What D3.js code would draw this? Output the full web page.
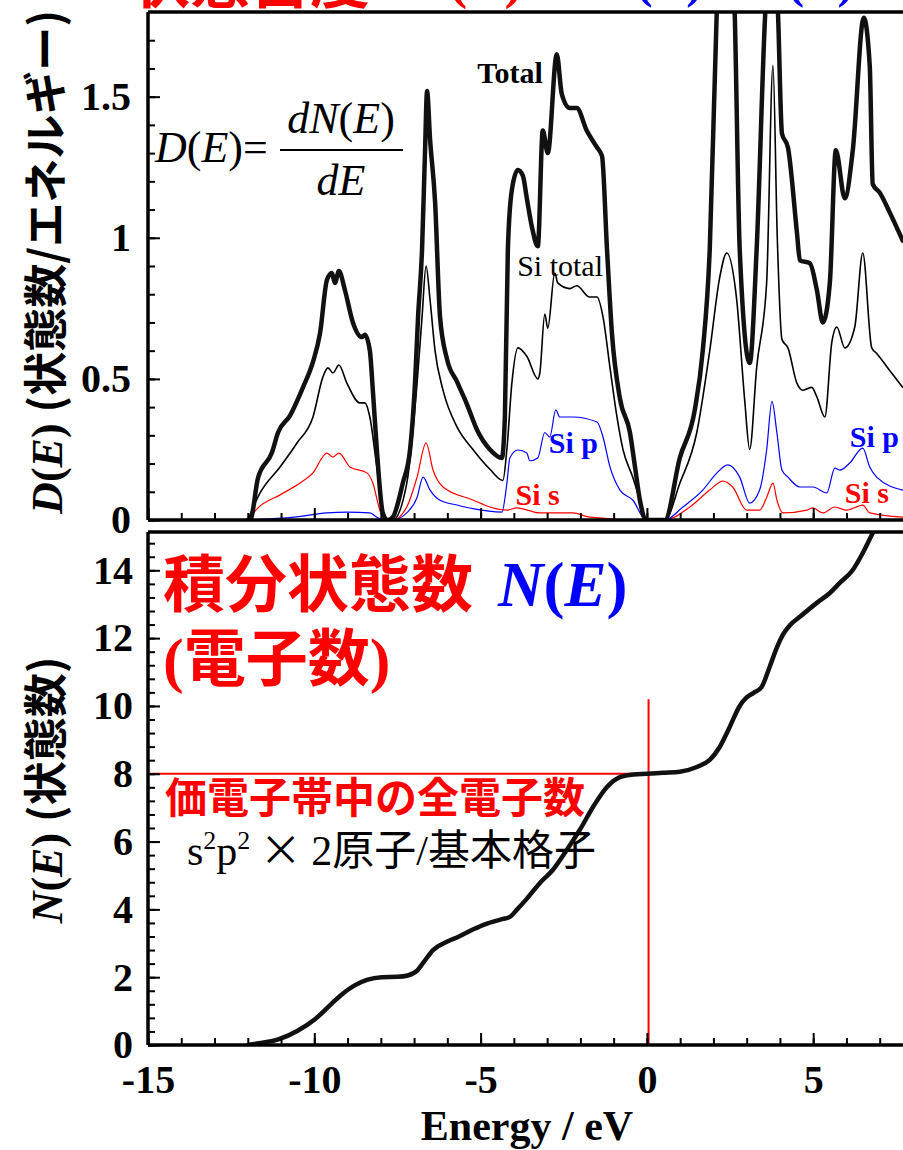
<!DOCTYPE html>
<html>
<head>
<meta charset="utf-8">
<script src="https://cdn.jsdelivr.net/npm/d3@7"></script>
<style>
body { margin: 0; background: #fff; }
svg { display: block; font-family: "Liberation Serif", "Times New Roman", "Noto Sans CJK JP", serif; }
.frame { stroke: #000; stroke-width: 3.5; }
.tick line { stroke: #000; stroke-width: 2; }
.tick text { font-size: 40px; font-weight: bold; fill: #000; font-family: "Liberation Serif", serif; }
.line { fill: none; stroke-linejoin: round; stroke-linecap: round; }
.total { stroke: #111; stroke-width: 4.5; }
.sitotal { stroke: #000; stroke-width: 1.6; }
.sip { stroke: #0000ff; stroke-width: 1.2; }
.sis { stroke: #ff0000; stroke-width: 1.2; }
.ne { stroke: #111; stroke-width: 4.5; }
.cjk { font-family: "Noto Sans CJK JP", sans-serif; }
</style>
</head>
<body>
<svg width="903" height="1150"></svg>
<script>
// energy (eV) vs density of states
const totalDOS = [
    [-12.0, 0], [-11.93, 0], [-11.69, 0.15], [-11.27, 0.24], [-11.09, 0.31], [-10.73, 0.37],
    [-10.34, 0.47], [-10.04, 0.56], [-9.83, 0.66], [-9.62, 0.85], [-9.47, 0.875], [-9.38, 0.84],
    [-9.26, 0.882], [-9.08, 0.815], [-8.84, 0.70], [-8.57, 0.648], [-8.48, 0.656], [-8.33, 0.60],
    [-8.24, 0.46], [-8.12, 0.25], [-7.94, 0.025], [-7.79, 0],
    [-7.64, 0.01], [-7.34, 0.13], [-7.12, 0.25], [-6.97, 0.49], [-6.88, 0.72], [-6.76, 0.96],
    [-6.67, 1.31], [-6.61, 1.52], [-6.52, 1.35], [-6.37, 1.13], [-6.22, 0.72], [-6.01, 0.57],
    [-5.71, 0.49], [-5.41, 0.41], [-5.11, 0.32], [-4.72, 0.25], [-4.36, 0.22], [-4.27, 0.365],
    [-4.18, 0.96], [-4.06, 1.17], [-3.88, 1.24], [-3.73, 1.22], [-3.61, 1.14], [-3.46, 1.04],
    [-3.28, 0.97], [-3.13, 1.38], [-2.98, 1.30], [-2.71, 1.65], [-2.56, 1.51], [-2.32, 1.46],
    [-2.11, 1.46], [-1.81, 1.38], [-1.50, 1.32], [-1.35, 1.29], [-1.20, 0.96], [-1.05, 0.66],
    [-0.81, 0.43], [-0.51, 0.31], [-0.36, 0.19], [-0.21, 0.07], [-0.03, 0],
    [0.54, 0], [0.99, 0.22], [1.44, 0.39], [1.68, 0.60], [1.89, 0.96], [2.10, 1.80], [2.25, 2.2],
    [2.37, 2.3], [2.49, 2.2], [2.64, 1.8], [2.79, 0.96], [3.09, 0.556], [3.30, 0.96], [3.56, 1.80],
    [3.67, 2.0], [3.76, 2.1], [3.85, 2.0], [3.94, 1.80], [4.06, 1.37], [4.24, 1.32], [4.51, 1.02],
    [4.60, 0.92], [4.90, 0.91], [5.11, 0.815], [5.29, 0.70], [5.50, 0.84], [5.68, 1.31],
    [5.95, 1.14], [6.19, 1.31], [6.52, 1.78], [6.70, 1.61], [6.79, 1.19], [7.00, 1.16],
    [7.30, 1.09], [7.69, 0.99]
];

const siTotalDOS = [
    [-12.0, 0], [-11.63, 0.096], [-11.03, 0.188], [-10.52, 0.273], [-10.04, 0.365], [-9.74, 0.507],
    [-9.59, 0.539], [-9.44, 0.521], [-9.26, 0.549], [-9.02, 0.485], [-8.63, 0.415], [-8.48, 0.415],
    [-8.33, 0.365], [-8.12, 0.188], [-7.88, 0],
    [-7.64, 0], [-7.22, 0.13], [-6.91, 0.485], [-6.76, 0.72], [-6.64, 0.90], [-6.52, 0.78],
    [-6.37, 0.60], [-6.13, 0.46], [-5.71, 0.33], [-5.23, 0.25], [-4.72, 0.18], [-4.33, 0.14],
    [-4.21, 0.25], [-4.06, 0.485], [-3.88, 0.61], [-3.61, 0.58], [-3.28, 0.50], [-3.22, 0.52],
    [-3.07, 0.73], [-2.98, 0.68], [-2.77, 0.875], [-2.68, 0.84], [-2.32, 0.82], [-2.11, 0.83],
    [-1.72, 0.79], [-1.50, 0.79], [-1.32, 0.72], [-1.11, 0.54], [-0.90, 0.365], [-0.72, 0.25],
    [-0.42, 0.15], [-0.21, 0.07], [-0.03, 0],
    [0.54, 0], [0.99, 0.13], [1.50, 0.31], [1.89, 0.60], [2.19, 0.86], [2.40, 0.946], [2.70, 0.78],
    [2.94, 0.425], [3.09, 0.25], [3.30, 0.54], [3.60, 0.84], [3.79, 1.61], [3.92, 1.0], [4.06, 0.64],
    [4.24, 0.61], [4.51, 0.485], [4.69, 0.46], [4.96, 0.47], [5.11, 0.436], [5.35, 0.365],
    [5.56, 0.63], [5.71, 0.684], [5.95, 0.61], [6.25, 0.684], [6.49, 0.946], [6.76, 0.61],
    [6.91, 0.59], [7.30, 0.53], [7.69, 0.47]
];

const siPDOS = [
    [-12.0, 0], [-10.6, 0.01], [-9.62, 0.025], [-9.02, 0.028], [-8.33, 0.025], [-8.12, 0.01], [-7.88, 0],
    [-7.64, 0], [-7.22, 0.025], [-6.91, 0.08], [-6.73, 0.152], [-6.52, 0.106], [-6.22, 0.07],
    [-5.71, 0.053], [-5.23, 0.04], [-4.36, 0.028], [-4.21, 0.13], [-4.12, 0.22], [-3.88, 0.248],
    [-3.61, 0.237], [-3.52, 0.21], [-3.28, 0.22], [-3.07, 0.31], [-2.92, 0.294], [-2.74, 0.39],
    [-2.62, 0.365], [-2.23, 0.365], [-1.50, 0.347], [-1.32, 0.294], [-1.11, 0.188], [-0.81, 0.106],
    [-0.42, 0.07], [-0.03, 0],
    [0.54, 0], [1.08, 0.046], [1.68, 0.106], [2.10, 0.166], [2.43, 0.195], [2.79, 0.152],
    [3.09, 0.06], [3.39, 0.106], [3.60, 0.248], [3.76, 0.42], [3.91, 0.308], [4.06, 0.177],
    [4.24, 0.152], [4.60, 0.117], [4.99, 0.117], [5.41, 0.096], [5.65, 0.184], [5.80, 0.177],
    [6.10, 0.202], [6.49, 0.255], [6.70, 0.188], [6.91, 0.152], [7.69, 0.106]
];

const siSDOS = [
    [-12.0, 0], [-11.69, 0.043], [-11.03, 0.089], [-10.43, 0.131], [-10.04, 0.167], [-9.62, 0.237],
    [-9.44, 0.223], [-9.26, 0.237], [-8.93, 0.188], [-8.42, 0.167], [-8.24, 0.131], [-8.03, 0.035],
    [-7.88, 0],
    [-7.64, 0], [-7.22, 0.046], [-6.91, 0.152], [-6.64, 0.273], [-6.43, 0.177], [-6.13, 0.117],
    [-5.23, 0.071], [-4.72, 0.046], [-4.21, 0.035], [-3.91, 0.043], [-3.22, 0.025], [-2.23, 0.025],
    [-1.71, 0.01], [-0.21, 0],
    [0.54, 0], [1.29, 0.046], [1.89, 0.106], [2.28, 0.138], [2.58, 0.117], [3.00, 0.035],
    [3.39, 0.035], [3.60, 0.08], [3.79, 0.131], [3.91, 0.07], [4.09, 0.025], [4.81, 0.035],
    [4.99, 0.043], [5.29, 0.025], [5.65, 0.046], [6.01, 0.035], [6.49, 0.053], [6.70, 0.025],
    [7.69, 0.01]
];

// integrated density of states N(E)
const intDOS = [
    [-12.0, 0], [-11.81, 0.03], [-11.06, 0.17], [-10.5, 0.42], [-9.98, 0.76], [-9.5, 1.2],
    [-9.20, 1.47], [-8.8, 1.75], [-8.42, 1.92], [-7.97, 2.0], [-7.5, 2.01], [-7.19, 2.05],
    [-6.9, 2.2], [-6.73, 2.42], [-6.43, 2.80], [-6.0, 3.05], [-5.65, 3.2], [-5.2, 3.42],
    [-4.87, 3.56], [-4.4, 3.7], [-4.12, 3.78], [-3.9, 4.0], [-3.64, 4.28], [-3.19, 4.81],
    [-2.83, 5.16], [-2.41, 5.75], [-2.02, 6.34], [-1.62, 7.02], [-1.20, 7.61], [-0.81, 7.9],
    [-0.4, 7.98], [0, 8.0], [0.48, 8.03], [0.99, 8.06], [1.50, 8.2], [1.89, 8.41], [2.19, 8.79],
    [2.49, 9.38], [2.79, 10.0], [3.0, 10.25], [3.2, 10.38], [3.45, 10.56], [3.69, 11.15],
    [3.91, 11.73], [4.09, 12.1], [4.3, 12.38], [4.60, 12.63], [5.11, 13.04], [5.50, 13.33],
    [5.80, 13.63], [6.19, 14.01], [6.49, 14.51], [6.76, 15.04], [7.0, 15.5]
];

const xTicks = [-15, -10, -5, 0, 5];
const xLabels = ["-15", "-10", "-5", "0", "5"];
const dTicks = [0, 0.5, 1, 1.5];
const dLabels = ["0", "0.5", "1", "1.5"];
const nTicks = [0, 2, 4, 6, 8, 10, 12, 14];
const nLabels = ["0", "2", "4", "6", "8", "10", "12", "14"];
const valenceElectrons = 8;
const fermiEnergy = 0.05;

const svg = d3.select("svg");

const x = d3.scaleLinear().domain([-15, 7.7]).range([148, 903]);
const yD = d3.scaleLinear().domain([0, 1.8]).range([520, 12]);
const yN = d3.scaleLinear().domain([0, 15.13]).range([1045, 532]);

const defs = svg.append("defs");
defs.append("clipPath").attr("id", "clipTop")
    .append("rect").attr("x", 148).attr("y", 12).attr("width", 755).attr("height", 508);
defs.append("clipPath").attr("id", "clipBot")
    .append("rect").attr("x", 148).attr("y", 532).attr("width", 755).attr("height", 513);

// title cut off at the top edge
svg.append("text").attr("class", "cjk").attr("x", 130).attr("y", 3)
    .attr("font-size", 60).attr("font-weight", "bold").attr("fill", "red").text("状態密度");
const tt = svg.append("text").attr("x", 408).attr("y", -3)
    .attr("font-size", 56).attr("font-weight", "bold").attr("fill", "red");
tt.append("tspan").attr("font-style", "italic").text("D");
tt.append("tspan").text("(");
tt.append("tspan").attr("font-style", "italic").text("E");
tt.append("tspan").text(")");
const tb = svg.append("text").attr("x", 575).attr("y", -3)
    .attr("font-size", 50).attr("font-weight", "bold").attr("fill", "blue");
tb.append("tspan").attr("font-style", "italic").text("dN");
tb.append("tspan").text("(");
tb.append("tspan").attr("font-style", "italic").text("E");
tb.append("tspan").text(")/");
tb.append("tspan").attr("font-style", "italic").text("dE ");
tb.append("tspan").text("(");
tb.append("tspan").attr("font-style", "italic").text("E");
tb.append("tspan").text(")");

// ---- top panel: D(E)
const lineD = d3.line().x(d => x(d[0])).y(d => yD(d[1])).curve(d3.curveMonotoneX);
const gTop = svg.append("g").attr("clip-path", "url(#clipTop)");
gTop.append("path").datum(siSDOS).attr("class", "line sis").attr("d", lineD);
gTop.append("path").datum(siPDOS).attr("class", "line sip").attr("d", lineD);
gTop.append("path").datum(siTotalDOS).attr("class", "line sitotal").attr("d", lineD);
gTop.append("path").datum(totalDOS).attr("class", "line total").attr("d", lineD);

svg.append("g").attr("transform", "translate(148,0)")
    .call(d3.axisLeft(yD).tickValues(d3.range(0, 1.75, 0.1)).tickSize(-7).tickFormat(""))
    .call(g => g.select(".domain").remove());
svg.append("g").attr("transform", "translate(148,0)")
    .call(d3.axisLeft(yD).tickValues(dTicks).tickSize(-12).tickPadding(17).tickFormat((d, i) => dLabels[i]))
    .call(g => g.select(".domain").remove());
svg.append("g").attr("transform", "translate(0,520)")
    .call(d3.axisBottom(x).tickValues(d3.range(-15, 8, 1)).tickSize(-7).tickFormat(""))
    .call(g => g.select(".domain").remove());
svg.append("g").attr("transform", "translate(0,520)")
    .call(d3.axisBottom(x).tickValues(xTicks).tickSize(-12).tickFormat(""))
    .call(g => g.select(".domain").remove());

// ---- bottom panel: N(E)
const lineN = d3.line().x(d => x(d[0])).y(d => yN(d[1])).curve(d3.curveMonotoneX);
const gBot = svg.append("g").attr("clip-path", "url(#clipBot)");

gBot.append("line")
    .attr("x1", x(-15)).attr("x2", x(0.5))
    .attr("y1", yN(valenceElectrons)).attr("y2", yN(valenceElectrons))
    .attr("stroke", "red").attr("stroke-width", 2);
gBot.append("line")
    .attr("x1", x(fermiEnergy)).attr("x2", x(fermiEnergy))
    .attr("y1", yN(10.2)).attr("y2", yN(0))
    .attr("stroke", "red").attr("stroke-width", 2);
gBot.append("path").datum(intDOS).attr("class", "line ne").attr("d", lineN);

svg.append("g").attr("transform", "translate(148,0)")
    .call(d3.axisLeft(yN).tickValues(d3.range(0, 15.1, 0.4)).tickSize(-7).tickFormat(""))
    .call(g => g.select(".domain").remove());
svg.append("g").attr("transform", "translate(148,0)")
    .call(d3.axisLeft(yN).tickValues(nTicks).tickSize(-12).tickPadding(15).tickFormat((d, i) => nLabels[i]))
    .call(g => g.select(".domain").remove());
svg.append("g").attr("transform", "translate(0,1045)")
    .call(d3.axisBottom(x).tickValues(d3.range(-15, 8, 1)).tickSize(-7).tickFormat(""))
    .call(g => g.select(".domain").remove());
svg.append("g").attr("transform", "translate(0,1045)")
    .call(d3.axisBottom(x).tickValues(xTicks).tickSize(-12).tickPadding(20).tickFormat((d, i) => xLabels[i]))
    .call(g => g.select(".domain").remove());

// frames
const frames = [
    [148, 12, 148, 520], [148, 12, 903, 12], [148, 520, 903, 520],
    [148, 532, 148, 1045], [148, 532, 903, 532], [148, 1045, 903, 1045]
];
svg.selectAll(".frame").data(frames).enter().append("line")
    .attr("class", "frame")
    .attr("x1", d => d[0]).attr("y1", d => d[1]).attr("x2", d => d[2]).attr("y2", d => d[3]);

// annotations, top
svg.append("text").attr("x", x(-5.1)).attr("y", yD(1.55))
    .attr("font-size", 30).attr("font-weight", "bold").text("Total");
svg.append("text").attr("x", x(-3.9)).attr("y", yD(0.865))
    .attr("font-size", 30).text("Si total");
svg.append("text").attr("x", x(-2.95)).attr("y", yD(0.237))
    .attr("font-size", 30).attr("font-weight", "bold").attr("fill", "blue").text("Si p");
svg.append("text").attr("x", x(6.1)).attr("y", yD(0.258))
    .attr("font-size", 30).attr("font-weight", "bold").attr("fill", "blue").text("Si p");
svg.append("text").attr("x", x(-3.95)).attr("y", yD(0.053))
    .attr("font-size", 30).attr("font-weight", "bold").attr("fill", "red").text("Si s");
svg.append("text").attr("x", x(5.95)).attr("y", yD(0.06))
    .attr("font-size", 30).attr("font-weight", "bold").attr("fill", "red").text("Si s");

// D(E) = dN(E)/dE
const f1 = svg.append("text").attr("x", 155).attr("y", 162).attr("font-size", 44);
f1.append("tspan").attr("font-style", "italic").text("D");
f1.append("tspan").text("(");
f1.append("tspan").attr("font-style", "italic").text("E");
f1.append("tspan").text(")=");
const f2 = svg.append("text").attr("x", 341).attr("y", 133).attr("font-size", 44).attr("text-anchor", "middle");
f2.append("tspan").attr("font-style", "italic").text("dN");
f2.append("tspan").text("(");
f2.append("tspan").attr("font-style", "italic").text("E");
f2.append("tspan").text(")");
svg.append("line").attr("x1", 280).attr("x2", 403).attr("y1", 150).attr("y2", 150)
    .attr("stroke", "#000").attr("stroke-width", 2);
svg.append("text").attr("x", 341).attr("y", 195).attr("font-size", 44).attr("text-anchor", "middle")
    .attr("font-style", "italic").text("dE");

// annotations, bottom
svg.append("text").attr("class", "cjk").attr("x", 163).attr("y", 607)
    .attr("font-size", 62).attr("font-weight", "bold").attr("fill", "red").text("積分状態数");
const nt = svg.append("text").attr("x", 498).attr("y", 606)
    .attr("font-size", 63).attr("font-weight", "bold").attr("fill", "blue");
nt.append("tspan").attr("font-style", "italic").text("N");
nt.append("tspan").text("(");
nt.append("tspan").attr("font-style", "italic").text("E");
nt.append("tspan").text(")");
const et = svg.append("text").attr("x", 163).attr("y", 681)
    .attr("font-size", 62).attr("font-weight", "bold").attr("fill", "red");
et.append("tspan").text("(");
et.append("tspan").attr("class", "cjk").text("電子数");
et.append("tspan").text(")");
svg.append("text").attr("class", "cjk").attr("x", 165).attr("y", 813)
    .attr("font-size", 42).attr("font-weight", "bold").attr("fill", "red").text("価電子帯中の全電子数");
const sp = svg.append("text").attr("x", 187).attr("y", 865).attr("font-size", 42);
sp.append("tspan").text("s");
sp.append("tspan").attr("font-size", 26).attr("dy", -16).text("2");
sp.append("tspan").attr("dy", 16).text("p");
sp.append("tspan").attr("font-size", 26).attr("dy", -16).text("2");
sp.append("tspan").attr("dy", 16).attr("class", "cjk").text(" × ");
sp.append("tspan").text("2");
sp.append("tspan").attr("class", "cjk").text("原子");
sp.append("tspan").text("/");
sp.append("tspan").attr("class", "cjk").text("基本格子");

// axis titles
svg.append("text").attr("x", 527).attr("y", 1140).attr("text-anchor", "middle")
    .attr("font-size", 42).attr("font-weight", "bold").text("Energy / eV");

const yt1 = svg.append("text").attr("transform", "translate(62,262) rotate(-90)")
    .attr("text-anchor", "middle").attr("font-size", 44).attr("font-weight", "bold");
yt1.append("tspan").attr("font-style", "italic").text("D");
yt1.append("tspan").text("(");
yt1.append("tspan").attr("font-style", "italic").text("E");
yt1.append("tspan").text(") ");
yt1.append("tspan").attr("class", "cjk").text("(状態数/エネルギー)");

const yt2 = svg.append("text").attr("transform", "translate(62,790) rotate(-90)")
    .attr("text-anchor", "middle").attr("font-size", 44).attr("font-weight", "bold");
yt2.append("tspan").attr("font-style", "italic").text("N");
yt2.append("tspan").text("(");
yt2.append("tspan").attr("font-style", "italic").text("E");
yt2.append("tspan").text(") ");
yt2.append("tspan").attr("class", "cjk").text("(状態数)");
</script>
</body>
</html>
